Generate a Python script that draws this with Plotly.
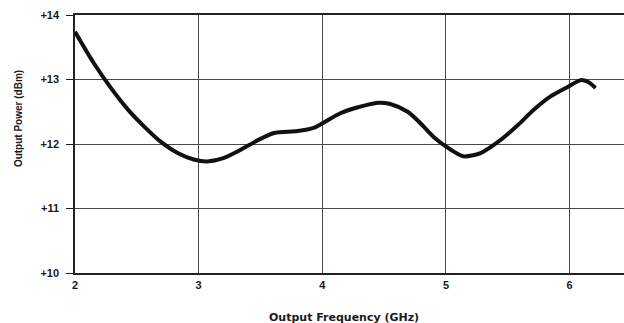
import plotly.graph_objects as go

# Output power vs output frequency
freq_ghz = [2.00, 2.15, 2.29, 2.43, 2.56, 2.69, 2.83, 2.96, 3.07, 3.20, 3.34, 3.48,
            3.61, 3.80, 3.93, 4.01, 4.15, 4.29, 4.45, 4.55, 4.69, 4.79, 4.90, 5.04,
            5.14, 5.28, 5.44, 5.58, 5.71, 5.84, 5.98, 6.09, 6.15, 6.21]
power_dbm = [13.74, 13.26, 12.87, 12.53, 12.27, 12.04, 11.86, 11.76, 11.73, 11.78, 11.91, 12.06,
             12.17, 12.20, 12.25, 12.33, 12.48, 12.57, 12.64, 12.62, 12.50, 12.33, 12.11, 11.91,
             11.81, 11.86, 12.06, 12.29, 12.53, 12.73, 12.88, 12.99, 12.96, 12.87]

x_ticks = [2, 3, 4, 5, 6]
x_labels = ['2', '3', '4', '5', '6']
y_ticks = [10, 11, 12, 13, 14]
y_labels = ['+10', '+11', '+12', '+13', '+14']

font_family = 'Liberation Sans, Arial, sans-serif'

fig = go.Figure()

fig.add_trace(
    go.Scatter(
        x=freq_ghz,
        y=power_dbm,
        mode='lines',
        line=dict(color='#111111', width=4, shape='spline', smoothing=0.8),
        showlegend=False,
        hoverinfo='skip'
    )
)

fig.update_layout(
    width=624,
    height=323,
    margin=dict(l=75, r=0, t=15, b=50),
    paper_bgcolor='white',
    plot_bgcolor='white',
    font=dict(family=font_family, color='#1a1a1a', size=11),
    showlegend=False
)

# axis titles as annotations so they can sit where the scan has them
fig.add_annotation(
    text='Output Frequency (GHz)', xref='paper', yref='paper',
    x=0.49, y=-0.172, yanchor='middle', showarrow=False,
    font=dict(family='DejaVu Sans, sans-serif', size=11, weight='bold')
)
fig.add_annotation(
    text='Output Power (dBm)', xref='paper', yref='paper',
    x=-0.104, y=0.6, xanchor='center', yanchor='middle', textangle=-90, showarrow=False,
    font=dict(size=10, weight='bold')
)

fig.update_xaxes(
    range=[2, 6.44],
    tickmode='array',
    tickvals=x_ticks,
    ticktext=x_labels,
    showgrid=True,
    gridcolor='#4a4a4a',
    gridwidth=1,
    showline=True,
    linecolor='#222222',
    linewidth=1.5,
    mirror=True,
    ticks='',
    ticklabelstandoff=1,
    tickfont=dict(size=11, weight='bold'),
    zeroline=False
)

fig.update_yaxes(
    range=[10, 14],
    tickmode='array',
    tickvals=y_ticks,
    ticktext=y_labels,
    showgrid=True,
    gridcolor='#4a4a4a',
    gridwidth=1,
    showline=True,
    linecolor='#222222',
    linewidth=1.5,
    ticks='outside',
    ticklen=7,
    tickcolor='#222222',
    ticklabelstandoff=5,
    tickfont=dict(size=11, weight='bold'),
    zeroline=False
)

# the page body has a default 8px margin; drop it so the chart sits at 0,0
fig.write_html("out.html", config={'displayModeBar': False},
               post_script="document.body.style.margin='0';")
